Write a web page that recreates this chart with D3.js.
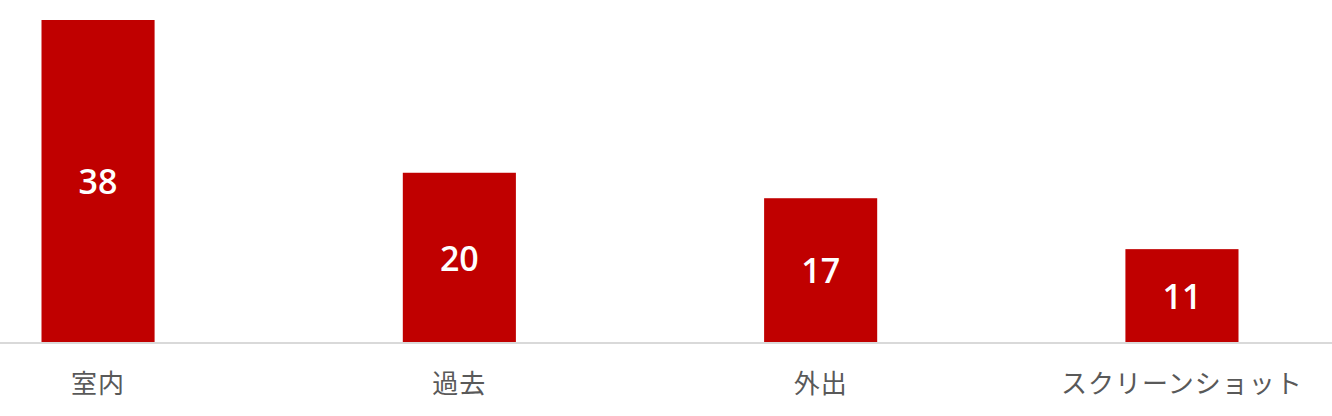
<!DOCTYPE html>
<html><head><meta charset="utf-8">
<script src="https://cdn.jsdelivr.net/npm/d3@7"></script>
<style>html,body{margin:0;padding:0;background:#fff;overflow:hidden}</style>
</head><body>
<svg id="c" width="1332" height="416"></svg>
<script>
const categories = ["室内", "過去", "外出", "スクリーンショット"];
const values = [38, 20, 17, 11];

const W = 1332, H = 416;
const svg = d3.select("#c");
const baseY = 342.5, topY = 20;

const x = d3.scaleBand().domain(categories).range([41.5, 1238.5]).paddingInner(0.687).paddingOuter(0);
const y = d3.scaleLinear().domain([0, 38]).range([baseY, topY]);

const data = categories.map((c, i) => ({c, v: values[i]}));

svg.selectAll("rect.bar").data(data).join("rect")
  .attr("class", "bar")
  .attr("x", d => x(d.c))
  .attr("width", x.bandwidth())
  .attr("y", d => y(d.v))
  .attr("height", d => y(0) - y(d.v))
  .attr("fill", "#c00000");

svg.append("line").attr("x1", 0).attr("x2", W).attr("y1", baseY + 0.5).attr("y2", baseY + 0.5)
  .attr("stroke", "#d9d9d9").attr("stroke-width", 2);

svg.selectAll("text.val").data(data).join("text")
  .attr("class", "val")
  .attr("x", d => x(d.c) + x.bandwidth() / 2)
  .attr("y", d => (y(d.v) + y(0)) / 2)
  .attr("text-anchor", "middle")
  .attr("dominant-baseline", "central")
  .attr("fill", "#fff")
  .attr("font-family", "'Open Sans', sans-serif")
  .attr("font-weight", 600)
  .attr("font-size", 34)
  .text(d => d.v);

svg.selectAll("text.cat").data(data).join("text")
  .attr("class", "cat")
  .attr("x", d => x(d.c) + x.bandwidth() / 2)
  .attr("y", 381)
  .attr("text-anchor", "middle")
  .attr("dominant-baseline", "central")
  .attr("fill", "#595959")
  .attr("font-family", "'Noto Sans CJK JP', sans-serif")
  .attr("font-size", 26)
  .attr("letter-spacing", 1)
  .text(d => d.c);
</script>
</body></html>
